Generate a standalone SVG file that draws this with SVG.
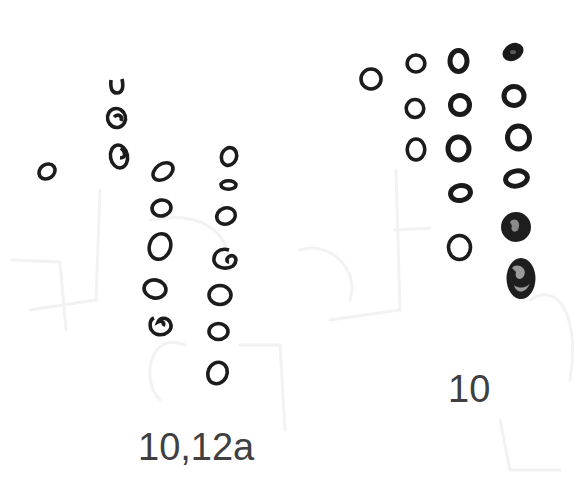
<svg xmlns="http://www.w3.org/2000/svg" width="588" height="504" viewBox="0 0 588 504">
<style>
.c{fill:none;stroke:#1c1c1c;stroke-width:3.6}
.h{fill:none;stroke:#1a1a1a;stroke-width:5}
.g{fill:none;stroke:#f2f2f2;stroke-width:3;stroke-linecap:round}
.t{font-family:"Liberation Sans",Arial,sans-serif;font-size:38px;fill:#404040}
</style>
<rect width="588" height="504" fill="#fff"/>
<g id="ghost">
<path class="g" d="M12 260 L60 262 L66 330 M100 190 L96 300 L30 310 M150 220 C200 210 230 230 230 270 M185 345 C150 330 140 380 160 400 M240 345 L280 345 L285 430 M300 250 C330 240 360 270 350 300 M396 170 L400 310 L330 320 M395 230 L430 228 M530 300 C560 280 580 320 570 380 M500 420 L510 470 L560 470"/>
</g>
<g id="left-group">
<path class="c" d="M111 80 C110 90 113 93 117 93 C122 93 124 88 122 79"/>
<ellipse class="c" cx="116.5" cy="118" rx="9" ry="9.5" transform="rotate(-15 116.5 118)"/>
<path class="c" d="M114 117 C118 113 123 116 121 121"/>
<ellipse class="c" cx="119" cy="156.5" rx="8.5" ry="11.5" transform="rotate(-10 119 156.5)"/>
<path class="c" d="M121 148 C126 152 126 158 120 158"/>
<ellipse class="c" cx="47" cy="171.5" rx="8.5" ry="7" transform="rotate(-35 47 171.5)"/>
<ellipse class="c" cx="163" cy="171.5" rx="11" ry="7.5" transform="rotate(-35 163 171.5)"/>
<ellipse class="c" cx="161.5" cy="208" rx="9.5" ry="8" transform="rotate(-10 161.5 208)"/>
<ellipse class="c" cx="160" cy="246.5" rx="10.5" ry="13" transform="rotate(20 160 246.5)"/>
<ellipse class="c" cx="155" cy="289" rx="11" ry="9" transform="rotate(10 155 289)"/>
<path class="c" d="M154 318 C149 320 148 330 156 334 C165 337 174 330 170 322 C167 317 160 317 158 322 C162 320 165 323 163 326"/>
<ellipse class="c" cx="229" cy="156.5" rx="7.5" ry="9" transform="rotate(20 229 156.5)"/>
<ellipse class="c" cx="228.5" cy="185" rx="7.5" ry="4.2"/>
<ellipse class="c" cx="226" cy="216" rx="9.5" ry="8" transform="rotate(-20 226 216)"/>
<path class="c" d="M229 250 C219 247 213 254 214 261 C216 268 226 270 233 266 C238 261 236 254 230 256 C226 258 226 262 229 262"/>
<ellipse class="c" cx="220" cy="295" rx="11" ry="9.5"/>
<ellipse class="c" cx="218.5" cy="331.5" rx="9.5" ry="8"/>
<ellipse class="c" cx="217.5" cy="373" rx="9.5" ry="11" transform="rotate(25 217.5 373)"/>
</g>
<g id="right-group">
<ellipse class="c" cx="371" cy="79" rx="10" ry="10"/>
<ellipse class="c" cx="416" cy="63.5" rx="8.8" ry="8.5"/>
<ellipse class="c" cx="415" cy="108.5" rx="8.8" ry="9"/>
<ellipse class="c" cx="416" cy="149.5" rx="8.8" ry="10.5"/>
<ellipse class="h" cx="458.5" cy="61" rx="8.5" ry="10.5"/>
<ellipse class="h" cx="460" cy="105" rx="9.5" ry="9.5"/>
<ellipse class="h" cx="458.5" cy="148.5" rx="10.5" ry="11.5"/>
<ellipse class="h" cx="460.5" cy="193" rx="10" ry="7.5" transform="rotate(-10 460.5 193)"/>
<ellipse class="c" cx="459.5" cy="247.5" rx="11" ry="12"/>
<ellipse cx="513" cy="52" rx="11" ry="8.5" transform="rotate(-30 513 52)" fill="#1a1a1a"/>
<ellipse cx="513" cy="52" rx="3" ry="2" fill="#5a5a5a"/>
<ellipse class="h" cx="514" cy="96" rx="10" ry="9.5"/>
<ellipse class="h" cx="518.5" cy="137.5" rx="11" ry="11.5"/>
<ellipse class="h" cx="516.5" cy="178.5" rx="11" ry="7.5" transform="rotate(-10 516.5 178.5)"/>
<ellipse cx="516" cy="227" rx="15" ry="15" fill="#1e1e1e"/>
<path d="M510 222 C515 216 522 222 518 230 C514 234 510 230 512 226 Z" fill="#8a8a8a"/>
<ellipse cx="521" cy="278.5" rx="14.5" ry="20.5" fill="#1e1e1e"/>
<path d="M512 268 C517 262 528 268 524 276 C520 282 514 278 516 272 Z M514 285 C520 290 528 287 530 283 C526 294 516 294 514 285 Z" fill="#9a9a9a"/>
</g>
<g id="labels">
<text class="t" x="138" y="460">10,12a</text>
<text class="t" x="448" y="402">10</text>
</g>
</svg>
